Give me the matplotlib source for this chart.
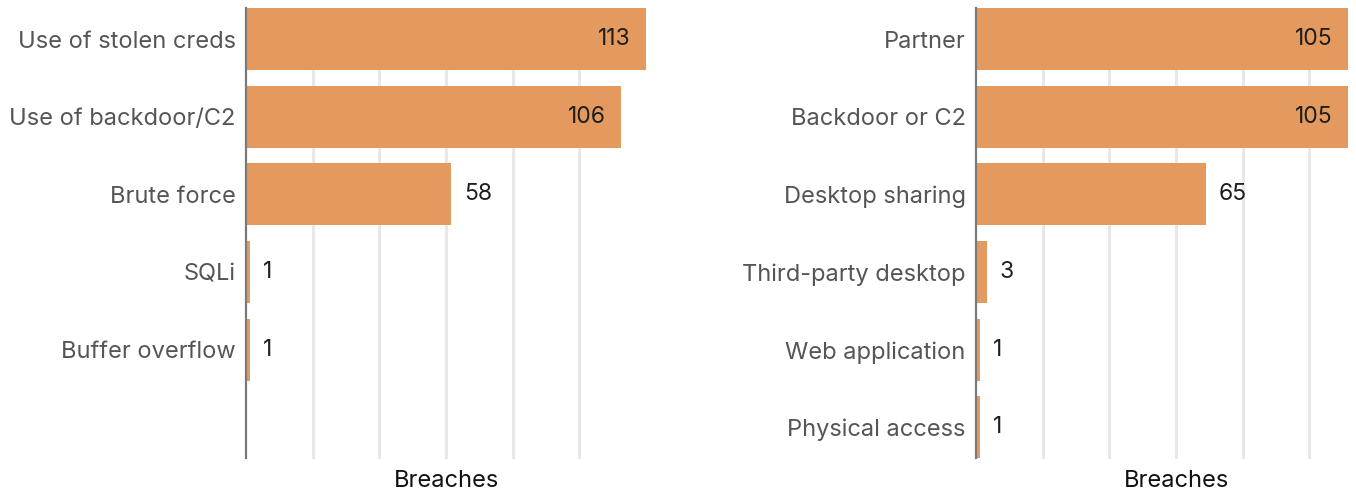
import numpy as np
import matplotlib
matplotlib.use("Agg")
import matplotlib.pyplot as plt

# ---- data ----
left_categories = ["Use of stolen creds", "Use of backdoor/C2", "Brute force", "SQLi", "Buffer overflow"]
left_values = [113, 106, 58, 1, 1]
right_categories = ["Partner", "Backdoor or C2", "Desktop sharing", "Third-party desktop",
                    "Web application", "Physical access"]
right_values = [105, 105, 65, 3, 1, 1]
x_label = "Breaches"

# ---- style ----
FONT = ["Inter", "DejaVu Sans"]
BAR_COLOR = "#E49A5E"
LABEL_COLOR = "#555555"
VALUE_COLOR = "#1e1e1e"
GRID_COLOR = "#e8e8e8"
AXIS_COLOR = "#7a7a7a"
XMAX = 113
N_SLOTS = 6
INSIDE_MIN = 80

plt.rcParams["font.family"] = FONT

W, H = 1356, 493
fig = plt.figure(figsize=(W / 100, H / 100), dpi=100)

bottom = (H - 458.5) / H
height = 450.5 / H
width = 400 / W


def panel(x0_px, cats, vals):
    ax = fig.add_axes([x0_px / W, bottom, width, height])
    y = np.arange(len(cats))
    ax.set_xlim(0, XMAX)
    ax.set_ylim(N_SLOTS - 0.6, -0.4)
    for gx in np.linspace(0, XMAX, 7)[1:-1]:
        ax.axvline(gx, color=GRID_COLOR, lw=2.2, zorder=0)
    ax.barh(y, vals, height=0.8, color=BAR_COLOR, zorder=2)
    for yi, v in zip(y, vals):
        if v >= INSIDE_MIN:
            ax.annotate(str(v), xy=(v, yi), xytext=(-15, 0), textcoords="offset pixels",
                        ha="right", va="center", fontsize=16.5, color=VALUE_COLOR, zorder=3)
        else:
            ax.annotate(str(v), xy=(v, yi), xytext=(13, 0), textcoords="offset pixels",
                        ha="left", va="center", fontsize=16.5, color=VALUE_COLOR, zorder=3)
    ax.set_yticks(y)
    ax.set_yticklabels(cats, fontsize=17, color=LABEL_COLOR)
    ax.tick_params(axis="y", length=0, pad=7.5)
    ax.set_xticks([])
    for s in ["top", "right", "bottom"]:
        ax.spines[s].set_visible(False)
    ax.spines["left"].set_color(AXIS_COLOR)
    ax.spines["left"].set_linewidth(1.6)
    ax.spines["left"].set_zorder(4)
    ax.annotate(x_label, xy=(0.5, 0), xycoords="axes fraction", xytext=(0, -28.5),
                textcoords="offset pixels", ha="center", va="baseline", fontsize=17,
                color="#111111", annotation_clip=False)
    return ax


panel(246, left_categories, left_values)
panel(976, right_categories, right_values)

fig.savefig("out.png", dpi=100)
